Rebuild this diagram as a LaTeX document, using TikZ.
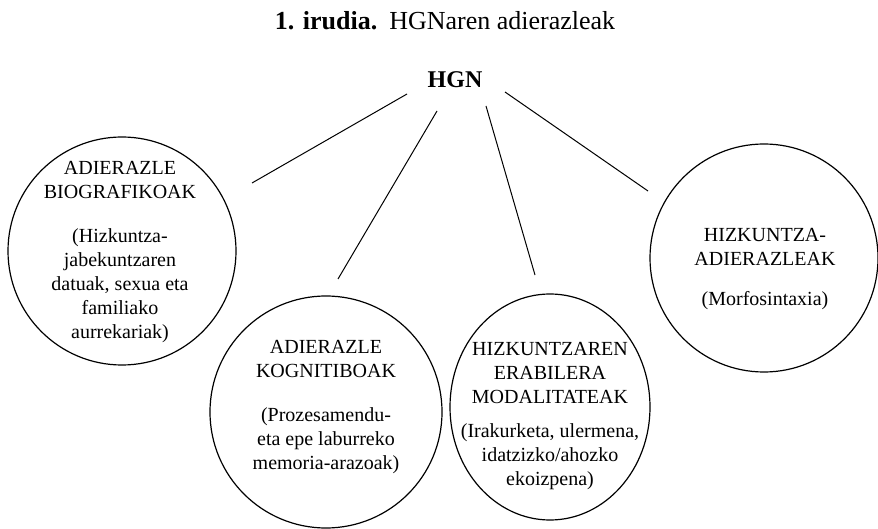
\documentclass[tikz,border=0pt]{standalone}
\usepackage{fontspec}
\setmainfont{Liberation Serif}
\usetikzlibrary{positioning, shapes.geometric}

\begin{document}
\begin{tikzpicture}[
    x=0.5pt, y=-0.5pt,
    % Node styles
    bubble/.style={
        circle,
        draw=black,
        line width=0.6pt,
        minimum size=114pt,
        inner sep=0pt
    },
    bubble text/.style={
        align=center,
        inner sep=0pt,
        font=\fontsize{10}{12}\selectfont
    },
    root label/.style={
        inner sep=0pt,
        font=\fontsize{12}{14}\selectfont\bfseries
    },
    title label/.style={
        inner sep=0pt,
        font=\fontsize{13}{15}\selectfont
    },
    connection/.style={
        draw=black,
        line width=0.5pt
    }
]

\useasboundingbox (0,0) rectangle (878,529);

% Title and root
\node[title label, anchor=base] (title) at (445,30)
    {\textbf{1. irudia.}\hspace{6pt}HGNaren adierazleak};
\node[root label, anchor=base] (hgn) at (455,88) {HGN};

% Circles
\node[bubble] (bio) at (122,251) {};
\node[bubble, minimum size=116pt] (cog) at (326,412) {};
\node[bubble, ellipse, minimum width=100pt, minimum height=113pt] (mod) at (550,407) {};
\node[bubble] (lang) at (764,258) {};

% Circle texts
\node[bubble text] (bio-t) at (120,252)
    {ADIERAZLE\\BIOGRAFIKOAK\\[10pt](Hizkuntza-\\jabekuntzaren\\datuak, sexua eta\\familiako\\aurrekariak)};
\node[bubble text] (cog-t) at (326,407)
    {ADIERAZLE\\KOGNITIBOAK\\[10pt](Prozesamendu-\\eta epe laburreko\\memoria-arazoak)};
\node[bubble text] (mod-t) at (550,416)
    {HIZKUNTZAREN\\ERABILERA\\MODALITATEAK\\[5pt](Irakurketa, ulermena,\\idatzizko/ahozko\\ekoizpena)};
\node[bubble text] (lang-t) at (765,269)
    {HIZKUNTZA-\\ADIERAZLEAK\\[8pt](Morfosintaxia)};

% Connector ends
\coordinate (hgn-1) at (407,94);
\coordinate (hgn-2) at (437,111);
\coordinate (hgn-3) at (486,106);
\coordinate (hgn-4) at (505,92);
\coordinate (bio-in) at (252,183);
\coordinate (cog-in) at (338,279);
\coordinate (mod-in) at (535,275);
\coordinate (lang-in) at (648,191);

% Connections: HGN -> circles
\foreach \a/\b in {hgn-1/bio-in, hgn-2/cog-in, hgn-3/mod-in, hgn-4/lang-in} {
    \draw[connection] (\a) -- (\b);
}

\end{tikzpicture}
\end{document}
